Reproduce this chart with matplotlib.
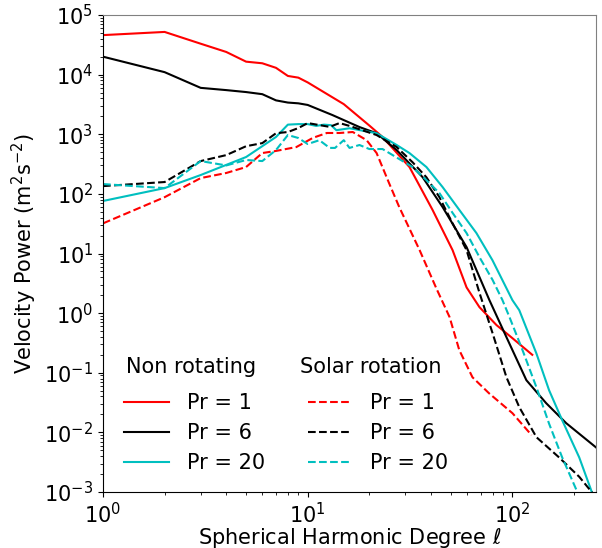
import matplotlib
matplotlib.use("Agg")
from matplotlib import pyplot as plt

# Non rotating runs
l_nr1 = [1, 2, 3, 4, 5, 6, 7, 8, 9, 10, 15, 20, 23.2, 31.4, 40.7, 51, 59.7, 69, 83.6, 100, 125]
p_nr1 = [4.6e4, 5.2e4, 3.3e4, 2.4e4, 1.65e4, 1.55e4, 1.3e4, 9.5e3, 8.9e3, 7.4e3, 3.2e3,
         1.4e3, 900, 282, 54, 11.4, 2.7, 1.26, 0.63, 0.38, 0.2]

l_nr6 = [1, 2, 3, 4, 5, 6, 7, 8, 9, 10, 13.2, 17.9, 21.7, 27.2, 36.4, 45.6, 59.7, 77.2,
         93.5, 117, 146, 183, 256]
p_nr6 = [2.0e4, 1.1e4, 6.0e3, 5.5e3, 5.1e3, 4.7e3, 3.7e3, 3.4e3, 3.3e3, 3.1e3, 2.1e3,
         1.32e3, 1.04e3, 543, 191, 60, 12.8, 1.65, 0.395, 0.075, 0.031, 0.0143, 0.0056]

l_nr20 = [1, 2, 3, 5, 7, 8, 9, 10, 11, 12, 13, 13.8, 16, 21.7, 27.2, 31.4, 38, 45.6, 55.1,
          66.7, 79.9, 100, 108, 131, 151, 175, 212, 250]
p_nr20 = [76, 125, 207, 415, 900, 1450, 1480, 1480, 1380, 1450, 1420, 1170, 1260, 1040,
          660, 484, 282, 130, 53.5, 22, 7.7, 1.65, 1.12, 0.21, 0.051, 0.016, 0.0038, 0.0008]

# Solar rotation runs
l_sr1 = [1, 2, 3, 4, 5, 6, 7, 8.8, 10.6, 12.4, 14.3, 16.6, 19.4, 21.7, 25, 28, 35.2,
         42.5, 49.3, 55, 63.8, 77, 100, 124]
p_sr1 = [32, 88, 184, 224, 282, 484, 525, 610, 870, 1050, 1050, 1090, 795, 484, 150, 60,
         11.4, 2.6, 0.86, 0.24, 0.084, 0.045, 0.021, 0.009]

l_sr6 = [1, 2, 3, 4, 5, 6, 7, 8, 9, 10, 12.8, 14.3, 16, 21.7, 27.2, 32.5, 38, 44, 51,
         59.7, 69, 80, 93.5, 108, 131, 169, 212, 250]
p_sr6 = [135, 158, 355, 447, 630, 710, 1040, 1090, 1270, 1540, 1330, 1540, 1380, 970, 610,
         340, 190, 88, 32, 11.4, 2.2, 0.46, 0.084, 0.0265, 0.0083, 0.0038, 0.0018, 0.0009]

l_sr20 = [1, 2, 3, 4, 5, 6, 7, 8, 9, 10, 11.4, 12.8, 13.6, 15, 16, 17.9, 20, 23.2, 26,
          32.5, 38, 44, 51, 59.7, 69, 80, 89.4, 96.7, 112, 131, 151, 175, 205]
p_sr20 = [146, 125, 355, 300, 370, 355, 543, 970, 865, 685, 795, 590, 590, 795, 590, 660,
          565, 565, 447, 282, 170, 103, 48, 22, 8.7, 3.6, 1.65, 0.86, 0.24, 0.057, 0.014,
          0.0038, 0.0011]

plt.rcParams['font.size'] = 15

fig = plt.figure(figsize=(6.02, 5.48), dpi=100)
ax = fig.add_axes([103 / 602, 56 / 548, 493 / 602, 477 / 548])

ax.loglog(l_nr1, p_nr1, 'r-', lw=1.5, label='Pr = 1')
ax.loglog(l_nr6, p_nr6, 'k-', lw=1.5, label='Pr = 6')
ax.loglog(l_nr20, p_nr20, 'c-', lw=1.5, label='Pr = 20')
ax.loglog(l_sr1, p_sr1, 'r--', lw=1.5, label='Pr = 1')
ax.loglog(l_sr6, p_sr6, 'k--', lw=1.5, label='Pr = 6')
ax.loglog(l_sr20, p_sr20, 'c--', lw=1.5, label='Pr = 20')

ax.set_xlim(1, 256)
ax.set_ylim(1e-3, 1e5)
ax.set_xlabel(r'Spherical Harmonic Degree $\ell$', labelpad=-1)
ax.set_ylabel(r'Velocity Power (m$^2$s$^{-2}$)')
for side in ['top', 'right']:
    ax.spines[side].set_color('0.5')

ax.legend(ncol=2, loc='lower left', frameon=False, handlelength=2.15,
          handletextpad=0.85, columnspacing=2.05, labelspacing=0.48,
          bbox_to_anchor=(0.005, 0.0))
ax.text(126 / 602, 1 - 367 / 548, 'Non rotating', transform=fig.transFigure,
        ha='left', va='center')
ax.text(300 / 602, 1 - 367 / 548, 'Solar rotation', transform=fig.transFigure,
        ha='left', va='center')

fig.savefig('out.png', dpi=100)
